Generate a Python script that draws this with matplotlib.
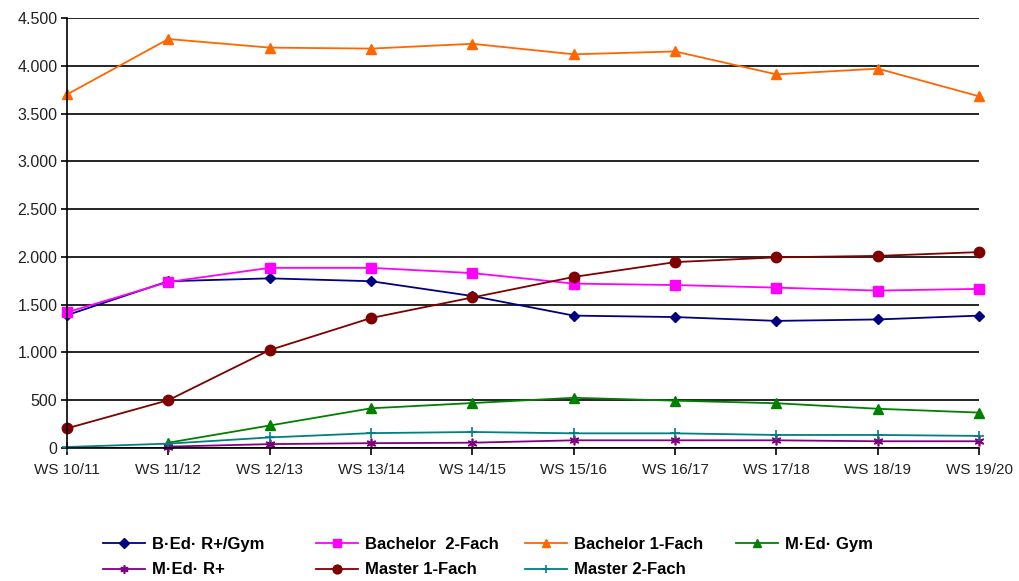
import numpy as np
import matplotlib.pyplot as plt
from matplotlib.ticker import FuncFormatter

plt.rcParams['font.family'] = ['Liberation Sans', 'DejaVu Sans']

semester = ['WS 10/11', 'WS 11/12', 'WS 12/13', 'WS 13/14', 'WS 14/15',
            'WS 15/16', 'WS 16/17', 'WS 17/18', 'WS 18/19', 'WS 19/20']

bed_gym = [1390, 1745, 1775, 1745, 1590, 1385, 1370, 1330, 1345, 1385]
bach_2 = [1420, 1738, 1885, 1885, 1830, 1720, 1705, 1678, 1647, 1665]
bach_1 = [3700, 4280, 4190, 4180, 4230, 4120, 4150, 3910, 3970, 3680]
med_gym = [np.nan, 55, 235, 415, 470, 525, 495, 468, 410, 370]
med_r = [np.nan, 14, 40, 50, 55, 80, 80, 80, 70, 70]
master_1 = [205, 500, 1025, 1360, 1575, 1790, 1945, 1995, 2010, 2050]
master_2 = [10, 45, 110, 155, 167, 153, 153, 136, 136, 126]

fig = plt.figure(figsize=(10.2, 5.81), dpi=100)
ax = fig.add_axes([0.0657, 0.229, 0.8943, 0.740])

x = np.arange(len(semester))
lw = 1.3
kw = dict(lw=lw, clip_on=False)
h_bed, = ax.plot(x, bed_gym, color='#000080', marker='D', ms=5.5, label='B·Ed· R+/Gym', **kw)
h_b2, = ax.plot(x, bach_2, color='#FF00FF', marker='s', ms=7.5, label='Bachelor  2-Fach', **kw)
h_b1, = ax.plot(x, bach_1, color='#FF6600', marker='^', ms=7.5, label='Bachelor 1-Fach', **kw)
h_mg, = ax.plot(x, med_gym, color='#008000', marker='^', ms=7.5, label='M·Ed· Gym', **kw)
h_mr, = ax.plot(x, med_r, color='#800080', marker=(6, 2, 0), ms=7, mew=1.2, label='M·Ed· R+', **kw)
h_m1, = ax.plot(x, master_1, color='#800000', marker='o', ms=7.5, label='Master 1-Fach', **kw)
h_m2, = ax.plot(x, master_2, color='#008080', marker='+', ms=6.5, mew=1.2, label='Master 2-Fach', **kw)

ax.set_xlim(0, 9)
ax.set_ylim(0, 4500)
ax.set_yticks(np.arange(0, 4501, 500))
ax.yaxis.set_major_formatter(FuncFormatter(lambda v, p: f'{int(v):,}'.replace(',', '.')))
ax.set_xticks(x)
ax.set_xticklabels(semester)
ax.grid(axis='y', color='black', lw=1.2)
ax.set_axisbelow(True)
for s in ['top', 'right']:
    ax.spines[s].set_visible(False)
ax.spines['left'].set_linewidth(1.2)
ax.spines['bottom'].set_linewidth(1.2)
ax.tick_params(axis='x', direction='out', length=5, width=1.2, labelsize=11, pad=6, colors='#222222')
ax.tick_params(axis='y', length=4, width=1.2, labelsize=11.5, pad=3, colors='#222222')
ax.tick_params(axis='both', color='black')

# legend: four columns placed one by one
columns = [[h_bed, h_mr], [h_b2, h_m1], [h_b1, h_m2], [h_mg]]
col_x = [103, 316, 525, 736]
for hs, cx in zip(columns, col_x):
    fig.legend(handles=hs, labels=[h.get_label() for h in hs],
               loc='upper left', bbox_to_anchor=(cx / 1020, 1 - 537 / 581),
               frameon=False, borderpad=0, borderaxespad=0,
               prop={'weight': 'bold', 'size': 12}, handlelength=2.5,
               handletextpad=0.45, labelspacing=0.62, markerscale=0.85)

fig.savefig('out.png', dpi=100)
